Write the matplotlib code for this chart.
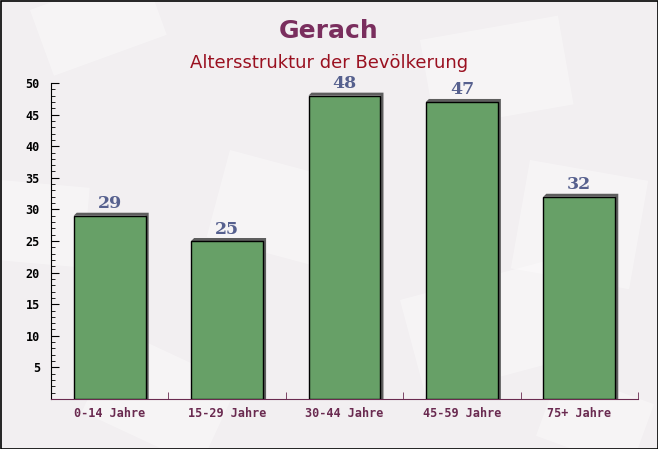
import matplotlib
matplotlib.use("Agg")
import matplotlib.pyplot as plt
from matplotlib.patches import Rectangle, Polygon

categories = ["0-14 Jahre", "15-29 Jahre", "30-44 Jahre", "45-59 Jahre", "75+ Jahre"]
values = [29, 25, 48, 47, 32]
yticks = [5, 10, 15, 20, 25, 30, 35, 40, 45, 50]

W, H = 658, 449
fig = plt.figure(figsize=(W / 100, H / 100), dpi=100)
fig.patch.set_facecolor("#f2eff1")

# faint decorative background
bg = fig.add_axes([0, 0, 1, 1], zorder=-10)
bg.set_xlim(0, W); bg.set_ylim(H, 0); bg.axis("off")
for (x, y, w, h, a) in [(30, 10, 120, 70, -20), (230, 150, 150, 90, 15), (420, 40, 140, 90, -10),
                        (530, 160, 120, 110, 10), (120, 330, 130, 90, 25), (400, 300, 160, 100, -15),
                        (0, 180, 90, 80, 5), (560, 370, 100, 70, 20)]:
    bg.add_patch(Rectangle((x, y), w, h, angle=a, color="white", alpha=0.35, lw=0))
bg.add_patch(Rectangle((0.5, 0.5), W - 1, H - 1, fill=False, ec="black", lw=1.2))

ax = fig.add_axes([51 / W, 1 - 399 / H, (638 - 51) / W, (399 - 83) / H])
ax.set_facecolor("none")
n = len(categories)
ax.set_xlim(-0.5, n - 0.5)
ax.set_ylim(0, 50)

bw = 0.613
dx = 3 / 117.4
dy = 3 / 6.32
xs = list(range(n))
# shadow (top and right side, slanted)
for x, v in zip(xs, values):
    l, r = x - bw / 2, x + bw / 2
    ax.add_patch(Polygon([(l, v), (l + dx, v + dy), (r + dx, v + dy), (r + dx, 0), (r, 0), (r, v)],
                         closed=True, color="#5e5e5e", lw=0, zorder=2))
ax.bar(xs, values, width=bw, color="#67a067", edgecolor="black", lw=1.0, zorder=3)
for x, v in zip(xs, values):
    ax.text(x, v + 0.55, str(v), ha="center", va="bottom", fontsize=12.5, fontweight="bold",
            family="DejaVu Serif", color="#56608e", zorder=4)

for s in ["top", "right"]:
    ax.spines[s].set_visible(False)
ax.spines["left"].set_color("black")
ax.spines["bottom"].set_color("#6a2a50")

ax.set_yticks(yticks)
ax.set_yticks(range(1, 51), minor=True)
ax.tick_params(axis="y", which="major", direction="in", length=6, labelsize=8.5, pad=8)
ax.tick_params(axis="y", which="minor", direction="in", length=3)
for lab in ax.get_yticklabels():
    lab.set_family("DejaVu Sans Mono"); lab.set_fontweight("bold")

ax.set_xticks([x + 0.5 for x in range(-1, n)], minor=True)
ax.set_xticks(xs)
ax.set_xticklabels(categories, family="DejaVu Sans Mono", fontsize=8.5, color="#6a2a50",
                   fontweight="bold")
ax.tick_params(axis="x", which="major", length=0, pad=6)
ax.tick_params(axis="x", which="minor", direction="in", length=5, color="#6a2a50")

fig.text(0.5, 1 - 31 / H, "Gerach", ha="center", va="center", fontsize=18, fontweight="bold",
         color="#7a2e5e")
fig.text(0.5, 1 - 63 / H, "Altersstruktur der Bevölkerung", ha="center", va="center",
         fontsize=13, color="#9a1020")

fig.savefig("out.png", dpi=100, facecolor=fig.get_facecolor())
